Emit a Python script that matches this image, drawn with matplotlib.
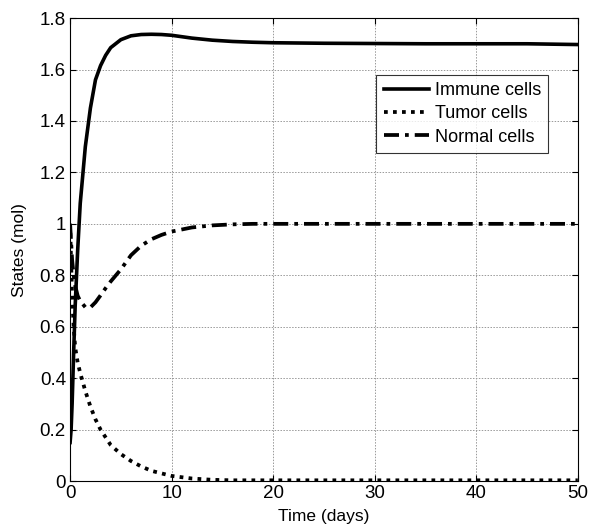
import numpy as np
import matplotlib.pyplot as plt

plt.rcParams['font.family'] = ['Liberation Sans', 'DejaVu Sans']

# values
t = [0, 0.1, 0.2, 0.35, 0.5, 0.75, 1, 1.5, 2, 2.5, 3, 3.5, 4, 5, 6, 7, 8, 9, 10,
     12, 14, 16, 18, 20, 25, 30, 35, 40, 45, 50]
immune = [0.15, 0.2, 0.3, 0.5, 0.68, 0.9, 1.08, 1.3, 1.45, 1.56, 1.615, 1.655, 1.685,
          1.716, 1.731, 1.736, 1.737, 1.736, 1.733, 1.722, 1.714, 1.709, 1.706, 1.704,
          1.702, 1.701, 1.700, 1.700, 1.700, 1.697]
tumor = [1.0, 0.85, 0.72, 0.6, 0.52, 0.46, 0.42, 0.35, 0.29, 0.24, 0.2, 0.17, 0.14,
         0.105, 0.078, 0.057, 0.04, 0.03, 0.02, 0.01, 0.005, 0.003, 0.003, 0.003,
         0.003, 0.003, 0.003, 0.003, 0.003, 0.003]
normal = [1.0, 0.93, 0.86, 0.8, 0.76, 0.72, 0.70, 0.676, 0.675, 0.695, 0.722, 0.75,
          0.776, 0.823, 0.878, 0.915, 0.94, 0.957, 0.97, 0.986, 0.994, 0.998, 1.0,
          1.0, 1.0, 1.0, 1.0, 1.0, 1.0, 1.0]

fig = plt.figure(figsize=(5.89, 5.31), dpi=100)
ax = fig.add_axes([0.119, 0.094, 0.862, 0.872])

ax.plot(t, immune, 'k-', lw=2.6, label='Immune cells')
ax.plot(t, tumor, 'k', lw=2.7, linestyle=(0, (1, 1.4)), label='Tumor cells')
ax.plot(t, normal, 'k', lw=2.7, linestyle=(0, (4, 1.6, 1, 1.6)), label='Normal cells')

ax.set_xlim(0, 50)
ax.set_ylim(0, 1.8)
ax.set_xticks(np.arange(0, 51, 10))
ax.set_yticks(np.arange(0, 1.81, 0.2))
ax.set_yticklabels(['0', '0.2', '0.4', '0.6', '0.8', '1', '1.2', '1.4', '1.6', '1.8'])
ax.grid(True, color='#999999', linestyle=(0, (1.5, 1.5)), linewidth=0.7)
ax.tick_params(direction='in', top=True, right=True, labelsize=13.5, length=4, pad=3)
for s in ax.spines.values():
    s.set_linewidth(0.8)

ax.set_xlabel('Time (days)', fontsize=12.5, labelpad=5)
ax.set_ylabel('States (mol)', fontsize=12.5, labelpad=9)

leg = ax.legend(loc='upper right', bbox_to_anchor=(0.96, 0.897), fontsize=13,
                frameon=True, fancybox=False, edgecolor='k', handlelength=2.5,
                borderpad=0.4, labelspacing=0.35, handletextpad=0.35)
leg.get_frame().set_linewidth(0.8)

plt.savefig('out.png', dpi=100)
